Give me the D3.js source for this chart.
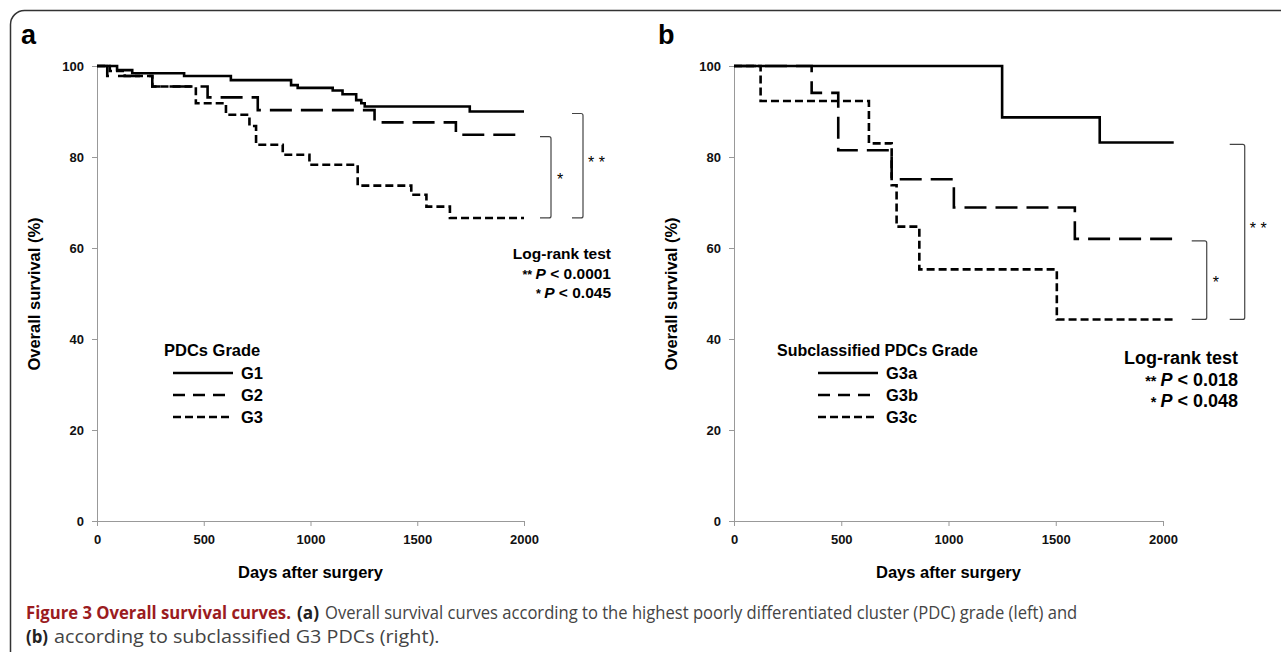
<!DOCTYPE html>
<html>
<head>
<meta charset="utf-8">
<script src="https://cdn.jsdelivr.net/npm/d3@7"></script>
<style>
  body { margin: 0; background: #fff; }
  svg text { font-family: 'Liberation Sans', Arial, sans-serif; }
</style>
</head>
<body>
<script>
// ── DATA ──────────────────────────────────────────────────────────────────────

const dayTicks  = [0, 500, 1000, 1500, 2000];
const survTicks = [0, 20, 40, 60, 80, 100];

// panel a: PDC grade (days, % surviving), step after
const gradeNames = ['G1', 'G2', 'G3'];
const curveG1 = [[0,100],[94,99.1],[165,98.4],[408,97.8],[627,96.9],[909,95.8],[940,95.2],[1104,94.6],[1150,93.8],[1214,92.5],[1238,91.8],[1254,91.1],[1746,90.0],[2000,90.0]];
const curveG2 = [[0,100],[48,97.8],[259,95.5],[518,93.1],[753,90.3],[1300,87.6],[1681,84.9],[2000,84.9]];
const curveG3 = [[0,100],[60,98.9],[130,97.8],[259,95.5],[463,91.8],[604,89.3],[714,86.8],[745,82.7],[870,80.5],[995,78.3],[1221,73.7],[1472,71.7],[1543,69.1],[1653,66.6],[2000,66.6]];

// panel b: subclassified G3
const subNames = ['G3a', 'G3b', 'G3c'];
const curveG3a = [[0,100],[1250,88.7],[1705,83.2],[2050,83.2]];
const curveG3b = [[0,100],[362,94.1],[486,81.5],[735,75.1],[1025,68.9],[1589,62.0],[2050,62.0]];
const curveG3c = [[0,100],[124,92.3],[629,83.0],[735,73.8],[758,64.7],[864,55.3],[1505,44.3],[2050,44.3]];

const pValuesA = ['0.0001', '0.045'];
const pValuesB = ['0.018', '0.048'];

// ── SETUP ─────────────────────────────────────────────────────────────────────

const W = 1281, H = 652;
const svg = d3.select('body').append('svg').attr('width', W).attr('height', H);

// outer frame with rounded corner
svg.append('rect')
  .attr('x', 10.5).attr('y', 10.5)
  .attr('width', 1300).attr('height', 700)
  .attr('rx', 14)
  .attr('fill', 'none')
  .attr('stroke', '#333')
  .attr('stroke-width', 1.5);

const curveDash  = [null, '22,9', '8,4'];
const legendDash = [null, '12,8', '8,4'];

const yScale = d3.scaleLinear().domain([0, 100]).range([521, 66]);

function drawPanel(p) {
  const x = d3.scaleLinear().domain([0, 2000]).range([p.x0, p.x1]);
  const g = svg.append('g');

  // panel letter
  g.append('text')
    .attr('x', p.letterX).attr('y', 44)
    .attr('font-size', 27).attr('font-weight', 'bold')
    .text(p.letter);

  // axes
  const yAx = g.append('g')
    .attr('transform', `translate(${p.x0},0)`)
    .call(d3.axisLeft(yScale).tickValues(survTicks).tickSize(5).tickPadding(8));
  const xAx = g.append('g')
    .attr('transform', `translate(0,${yScale(0)})`)
    .call(d3.axisBottom(x).tickValues(dayTicks).tickSize(5).tickPadding(9).tickFormat(d3.format('d')));

  [yAx, xAx].forEach(ax => {
    ax.select('.domain').attr('stroke', '#999');
    ax.selectAll('.tick line').attr('stroke', '#999');
    ax.selectAll('.tick text')
      .attr('font-size', 13).attr('font-weight', 'bold')
      .attr('fill', '#111')
      .style('font-family', "'Liberation Sans', Arial, sans-serif");
  });

  // axis titles
  g.append('text')
    .attr('transform', `translate(${p.x0 - 57},294) rotate(-90)`)
    .attr('text-anchor', 'middle')
    .attr('font-size', 16.5).attr('font-weight', 'bold')
    .text('Overall survival (%)');

  g.append('text')
    .attr('x', (p.x0 + x(2000)) / 2).attr('y', 578)
    .attr('text-anchor', 'middle')
    .attr('font-size', 16.5).attr('font-weight', 'bold')
    .text('Days after surgery');

  // curves
  const line = d3.line()
    .x(d => x(d[0]))
    .y(d => yScale(d[1]))
    .curve(d3.curveStepAfter);

  p.curves.forEach((c, i) => {
    g.append('path')
      .datum(c)
      .attr('d', line)
      .attr('fill', 'none')
      .attr('stroke', '#000')
      .attr('stroke-width', 2.6)
      .attr('stroke-dasharray', curveDash[i]);
  });

  // legend
  g.append('text')
    .attr('x', p.legX).attr('y', 356)
    .attr('font-size', p.legSize).attr('font-weight', 'bold')
    .text(p.legTitle);

  p.names.forEach((n, i) => {
    const ly = 373 + i * 22;
    g.append('line')
      .attr('x1', p.legX + p.legLine[0]).attr('x2', p.legX + p.legLine[1])
      .attr('y1', ly).attr('y2', ly)
      .attr('stroke', '#000').attr('stroke-width', 2.6)
      .attr('stroke-dasharray', legendDash[i]);
    g.append('text')
      .attr('x', p.legX + p.legLine[1] + 8).attr('y', ly + 6)
      .attr('font-size', 16.5).attr('font-weight', 'bold')
      .text(n);
  });

  // significance brackets
  const ends = p.curves.map(c => c[c.length - 1]);
  const endX = x(ends[0][0]);

  function bracket(yTop, yBot, bx, label, labelX, labelY) {
    const w = p.bracketW;
    g.append('path')
      .attr('d', `M${bx - w},${yTop} L${bx - 2},${yTop} Q${bx},${yTop} ${bx},${yTop + 2} L${bx},${yBot - 2} Q${bx},${yBot} ${bx - 2},${yBot} L${bx - w},${yBot}`)
      .attr('fill', 'none')
      .attr('stroke', '#444')
      .attr('stroke-width', 1.2);
    g.append('text')
      .attr('x', labelX).attr('y', labelY)
      .attr('font-size', 16)
      .text(label);
  }

  bracket(yScale(ends[1][1]) + 2, yScale(ends[2][1]), endX + p.smallOff, '*', endX + p.smallOff + 6, (yScale(ends[1][1]) + yScale(ends[2][1])) / 2 + 9);
  bracket(yScale(ends[0][1]) + 2, yScale(ends[2][1]), endX + p.bigOff, '* *', endX + p.bigOff + 5, (yScale(ends[0][1]) + yScale(ends[2][1])) / 2 + 3);

  // log-rank text
  const t = g.append('g')
    .attr('font-weight', 'bold')
    .attr('font-size', p.pSize)
    .attr('text-anchor', 'end');
  t.append('text').attr('x', p.pX).attr('y', p.pY).text('Log-rank test');
  const l1 = t.append('text').attr('x', p.pX).attr('y', p.pY + p.pGap);
  l1.append('tspan').attr('font-size', p.pSize * 0.8).text('** ');
  l1.append('tspan').attr('font-style', 'italic').text('P');
  l1.append('tspan').text(' < ' + p.pValues[0]);
  const l2 = t.append('text').attr('x', p.pX).attr('y', p.pY + 2 * p.pGap);
  l2.append('tspan').attr('font-size', p.pSize * 0.8).text('* ');
  l2.append('tspan').attr('font-style', 'italic').text('P');
  l2.append('tspan').text(' < ' + p.pValues[1]);
}

drawPanel({
  letter: 'a', letterX: 21,
  x0: 97, x1: 524,
  curves: [curveG1, curveG2, curveG3],
  names: gradeNames,
  legTitle: 'PDCs Grade', legX: 164, legLine: [9, 69], legSize: 16.5,
  smallOff: 27, bigOff: 59, bracketW: 11,
  pX: 611, pY: 259, pGap: 19.5, pSize: 15.5,
  pValues: pValuesA
});

drawPanel({
  letter: 'b', letterX: 658,
  x0: 734, x1: 1163,
  curves: [curveG3a, curveG3b, curveG3c],
  names: subNames,
  legTitle: 'Subclassified PDCs Grade', legX: 777, legLine: [41, 101], legSize: 16,
  smallOff: 33, bigOff: 71, bracketW: 15,
  pX: 1238, pY: 364, pGap: 21.5, pSize: 18,
  pValues: pValuesB
});

// ── CAPTION ───────────────────────────────────────────────────────────────────
// the caption face is condensed: squeeze each run horizontally to its width

const capSegments = [
  // [text, x, y, width, weight, colour]
  ['Figure 3 Overall survival curves.', 26, 619, 265, 'bold', '#9b1c1f'],
  ['(a)', 297, 619, 22, 'bold', '#222'],
  ['Overall survival curves according to the highest poorly differentiated cluster (PDC) grade (left) and', 325, 619, 753, 'normal', '#444'],
  ['(b)', 26, 643, 22, 'bold', '#222'],
  ['according to subclassified G3 PDCs (right).', 54, 643, 386, 'normal', '#444']
];

svg.append('g').selectAll('text')
  .data(capSegments)
  .join('text')
  .attr('font-weight', d => d[4])
  .attr('fill', d => d[5])
  .attr('font-size', 18.5)
  .style('font-family', "'Open Sans', sans-serif")
  .text(d => d[0])
  .attr('transform', function(d) {
    const sx = d[3] / this.getComputedTextLength();
    return `translate(${d[1]},${d[2]}) scale(${sx},1)`;
  });
</script>
</body>
</html>
